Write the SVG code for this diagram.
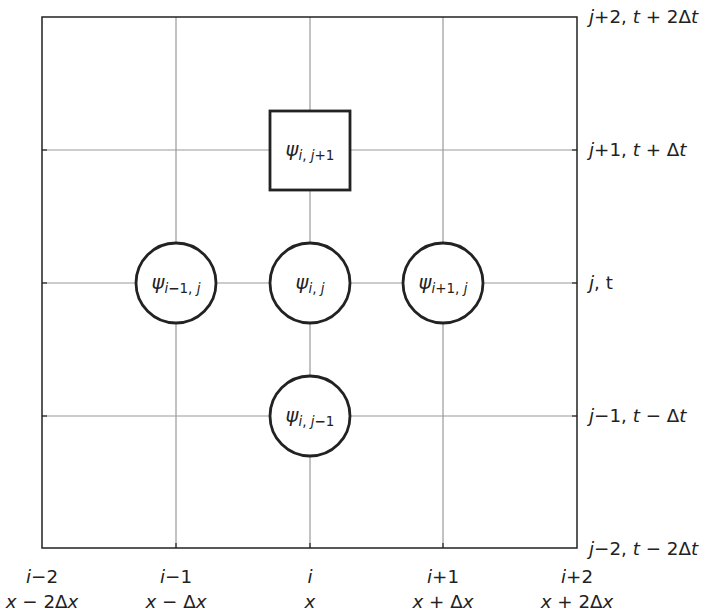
<svg xmlns="http://www.w3.org/2000/svg" width="701" height="614" viewBox="0 0 701 614">
<style>
.grid{stroke:#999;stroke-width:1.2;fill:none}
.frame{stroke:#222;stroke-width:1.5;fill:none}
.tick{stroke:#222;stroke-width:1.2}
.node{stroke:#222;stroke-width:2.8;fill:#fff}
text{font-family:"DejaVu Sans",sans-serif;fill:#222}
.lbl{font-size:18.3px}
.psi{font-size:19.5px}
.sub{font-size:13.5px}
.it{font-style:italic}
</style>
<rect width="701" height="614" fill="#fff"/>
<g id="connectors">
<line class="grid" x1="176" y1="17" x2="176" y2="548"/>
<line class="grid" x1="310" y1="17" x2="310" y2="548"/>
<line class="grid" x1="443" y1="17" x2="443" y2="548"/>
<line class="grid" x1="42" y1="150" x2="577" y2="150"/>
<line class="grid" x1="42" y1="283" x2="577" y2="283"/>
<line class="grid" x1="42" y1="416" x2="577" y2="416"/>
<rect class="frame" x="42" y="17" width="535" height="531"/>
<line class="tick" x1="42" y1="150" x2="47" y2="150"/>
<line class="tick" x1="42" y1="283" x2="47" y2="283"/>
<line class="tick" x1="42" y1="416" x2="47" y2="416"/>
<line class="tick" x1="572" y1="150" x2="577" y2="150"/>
<line class="tick" x1="572" y1="283" x2="577" y2="283"/>
<line class="tick" x1="572" y1="416" x2="577" y2="416"/>
<line class="tick" x1="176" y1="548" x2="176" y2="543"/>
<line class="tick" x1="310" y1="548" x2="310" y2="543"/>
<line class="tick" x1="443" y1="548" x2="443" y2="543"/>
</g>
<g id="node-i-jp1">
<rect class="node" x="270" y="111" width="80" height="79"/>
<text class="psi" x="310" y="156" text-anchor="middle"><tspan class="it">ψ</tspan><tspan class="sub" dy="4"><tspan class="it">i</tspan>, <tspan class="it">j</tspan>+1</tspan></text>
</g>
<g id="node-im1-j">
<circle class="node" cx="176" cy="283" r="40"/>
<text class="psi" x="176" y="289" text-anchor="middle"><tspan class="it">ψ</tspan><tspan class="sub" dy="4"><tspan class="it">i</tspan><tspan font-weight="bold">−</tspan>1, <tspan class="it">j</tspan></tspan></text>
</g>
<g id="node-i-j">
<circle class="node" cx="310" cy="283" r="40"/>
<text class="psi" x="310" y="289" text-anchor="middle"><tspan class="it">ψ</tspan><tspan class="sub" dy="4"><tspan class="it">i</tspan>, <tspan class="it">j</tspan></tspan></text>
</g>
<g id="node-ip1-j">
<circle class="node" cx="443" cy="283" r="40"/>
<text class="psi" x="443" y="289" text-anchor="middle"><tspan class="it">ψ</tspan><tspan class="sub" dy="4"><tspan class="it">i</tspan>+1, <tspan class="it">j</tspan></tspan></text>
</g>
<g id="node-i-jm1">
<circle class="node" cx="310" cy="416" r="40"/>
<text class="psi" x="310" y="422" text-anchor="middle"><tspan class="it">ψ</tspan><tspan class="sub" dy="4"><tspan class="it">i</tspan>, <tspan class="it">j</tspan><tspan font-weight="bold">−</tspan>1</tspan></text>
</g>
<g id="ylabels" class="lbl">
<text x="589" y="23"><tspan class="it">j</tspan>+2, <tspan class="it">t</tspan> + 2Δ<tspan class="it">t</tspan></text>
<text x="589" y="156"><tspan class="it">j</tspan>+1, <tspan class="it">t</tspan> + Δ<tspan class="it">t</tspan></text>
<text x="589" y="289"><tspan class="it">j</tspan>, t</text>
<text x="589" y="422"><tspan class="it">j</tspan>−1, <tspan class="it">t</tspan> − Δ<tspan class="it">t</tspan></text>
<text x="589" y="555"><tspan class="it">j</tspan>−2, <tspan class="it">t</tspan> − 2Δ<tspan class="it">t</tspan></text>
</g>
<g id="xlabels" class="lbl" text-anchor="middle">
<text x="42" y="583"><tspan class="it">i</tspan>−2</text>
<text x="176" y="583"><tspan class="it">i</tspan>−1</text>
<text x="310" y="583"><tspan class="it">i</tspan></text>
<text x="443" y="583"><tspan class="it">i</tspan>+1</text>
<text x="577" y="583"><tspan class="it">i</tspan>+2</text>
<text x="42" y="608"><tspan class="it">x</tspan> − 2Δ<tspan class="it">x</tspan></text>
<text x="176" y="608"><tspan class="it">x</tspan> − Δ<tspan class="it">x</tspan></text>
<text x="310" y="608"><tspan class="it">x</tspan></text>
<text x="443" y="608"><tspan class="it">x</tspan> + Δ<tspan class="it">x</tspan></text>
<text x="577" y="608"><tspan class="it">x</tspan> + 2Δ<tspan class="it">x</tspan></text>
</g>
</svg>
